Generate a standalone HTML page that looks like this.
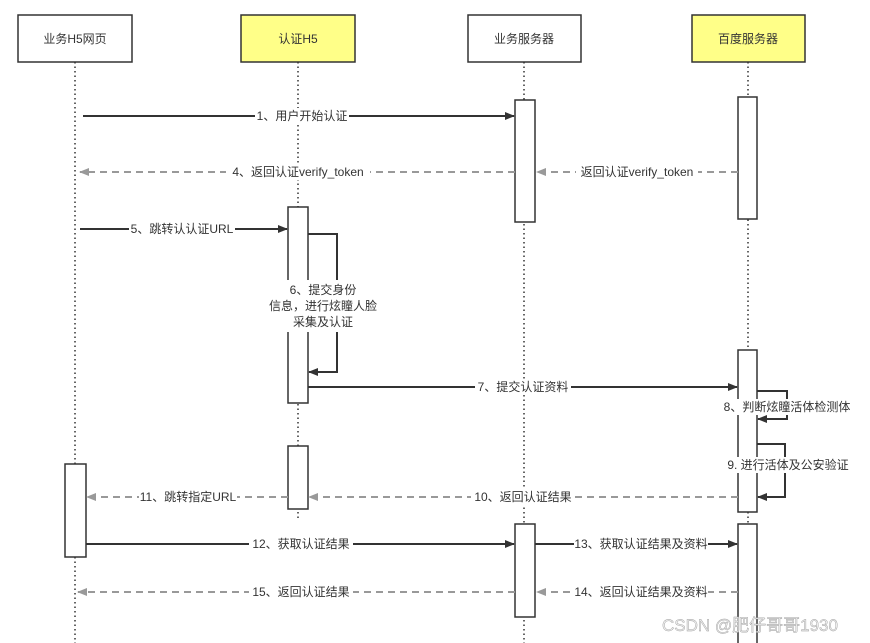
<!DOCTYPE html>
<html><head><meta charset="utf-8"><style>
html,body{margin:0;padding:0;background:#fff;width:870px;height:643px;overflow:hidden}
text{font-family:"Liberation Sans","Noto Sans CJK SC",sans-serif;font-size:12px;fill:#333}
</style></head><body>
<svg width="870" height="643" viewBox="0 0 870 643" xmlns="http://www.w3.org/2000/svg">
<defs>
<marker id="a" markerWidth="10" markerHeight="8" refX="9" refY="4" orient="auto" markerUnits="userSpaceOnUse"><path d="M0,0 L10,4 L0,8 Z" fill="#333"/></marker>
<marker id="g" markerWidth="10" markerHeight="8" refX="9" refY="4" orient="auto" markerUnits="userSpaceOnUse"><path d="M0,0 L10,4 L0,8 Z" fill="#999"/></marker>
</defs>
<g stroke="#333" stroke-width="1.5" stroke-dasharray="1.5,3">
<line x1="75" y1="62" x2="75" y2="643"/><line x1="298" y1="62" x2="298" y2="520"/>
<line x1="524" y1="62" x2="524" y2="643"/><line x1="748" y1="62" x2="748" y2="643"/>
</g>
<g stroke="#333" stroke-width="1.5">
<rect x="18" y="15" width="114" height="47" fill="#fff"/>
<rect x="241" y="15" width="114" height="47" fill="#ffff88"/>
<rect x="468" y="15" width="113" height="47" fill="#fff"/>
<rect x="692" y="15" width="113" height="47" fill="#ffff88"/>
<rect x="515" y="100" width="20" height="122" fill="#fff"/>
<rect x="738" y="97" width="19" height="122" fill="#fff"/>
<rect x="288" y="207" width="20" height="196" fill="#fff"/>
<rect x="288" y="446" width="20" height="63" fill="#fff"/>
<rect x="738" y="350" width="19" height="162" fill="#fff"/>
<rect x="65" y="464" width="21" height="93" fill="#fff"/>
<rect x="515" y="524" width="20" height="93" fill="#fff"/>
<rect x="738" y="524" width="19" height="125" fill="#fff"/>
</g>
<g font-size="12">
<text x="75" y="43" text-anchor="middle">业务H5网页</text>
<text x="298" y="43" text-anchor="middle">认证H5</text>
<text x="524" y="43" text-anchor="middle">业务服务器</text>
<text x="748" y="43" text-anchor="middle">百度服务器</text>
</g>
<g stroke="#333" stroke-width="2" fill="none">
<line x1="83" y1="116" x2="514" y2="116" marker-end="url(#a)"/>
<line x1="80" y1="229" x2="287" y2="229" marker-end="url(#a)"/>
<polyline points="308,234 337,234 337,372 309,372" marker-end="url(#a)"/>
<line x1="308" y1="387" x2="737" y2="387" marker-end="url(#a)"/>
<polyline points="757,391 787,391 787,419 758,419" marker-end="url(#a)"/>
<polyline points="757,444 785,444 785,497 758,497" marker-end="url(#a)"/>
<line x1="86" y1="544" x2="514" y2="544" marker-end="url(#a)"/>
<line x1="535" y1="544" x2="737" y2="544" marker-end="url(#a)"/>
</g>
<g stroke="#999" stroke-width="2" fill="none" stroke-dasharray="7,5">
<line x1="515" y1="172" x2="80" y2="172" marker-end="url(#g)"/>
<line x1="738" y1="172" x2="537" y2="172" marker-end="url(#g)"/>
<line x1="738" y1="497" x2="309" y2="497" marker-end="url(#g)"/>
<line x1="288" y1="497" x2="87" y2="497" marker-end="url(#g)"/>
<line x1="515" y1="592" x2="78" y2="592" marker-end="url(#g)"/>
<line x1="738" y1="592" x2="537" y2="592" marker-end="url(#g)"/>
</g>
<g fill="#fff">
<rect x="255" y="108" width="94" height="16"/>
<rect x="226" y="164" width="144" height="16"/>
<rect x="576" y="164" width="122" height="16"/>
<rect x="129" y="221" width="106" height="16"/>
<rect x="275" y="280" width="95" height="52"/>
<rect x="475" y="379" width="96" height="16"/>
<rect x="718" y="399" width="138" height="16"/>
<rect x="722" y="457" width="132" height="16"/>
<rect x="471" y="489" width="104" height="16"/>
<rect x="139" y="489" width="98" height="16"/>
<rect x="249" y="536" width="104" height="16"/>
<rect x="574" y="536" width="134" height="16"/>
<rect x="249" y="584" width="104" height="16"/>
<rect x="574" y="584" width="134" height="16"/>
</g>
<g>
<text x="302" y="120" text-anchor="middle">1、用户开始认证</text>
<text x="298" y="176" text-anchor="middle">4、返回认证verify_token</text>
<text x="637" y="176" text-anchor="middle">返回认证verify_token</text>
<text x="182" y="233" text-anchor="middle">5、跳转认认证URL</text>
<text x="323" y="294" text-anchor="middle">6、提交身份</text>
<text x="323" y="310" text-anchor="middle">信息，进行炫瞳人脸</text>
<text x="323" y="326" text-anchor="middle">采集及认证</text>
<text x="523" y="391" text-anchor="middle">7、提交认证资料</text>
<text x="787" y="411" text-anchor="middle">8、判断炫瞳活体检测体</text>
<text x="788" y="469" text-anchor="middle">9. 进行活体及公安验证</text>
<text x="523" y="501" text-anchor="middle">10、返回认证结果</text>
<text x="188" y="501" text-anchor="middle">11、跳转指定URL</text>
<text x="301" y="548" text-anchor="middle">12、获取认证结果</text>
<text x="641" y="548" text-anchor="middle">13、获取认证结果及资料</text>
<text x="301" y="596" text-anchor="middle">15、返回认证结果</text>
<text x="641" y="596" text-anchor="middle">14、返回认证结果及资料</text>
</g>
<text x="662" y="631" style="font-size:17px;fill:#eeeeee;stroke:#999;stroke-width:0.4">CSDN @肥仔哥哥1930</text>
</svg>
</body></html>
